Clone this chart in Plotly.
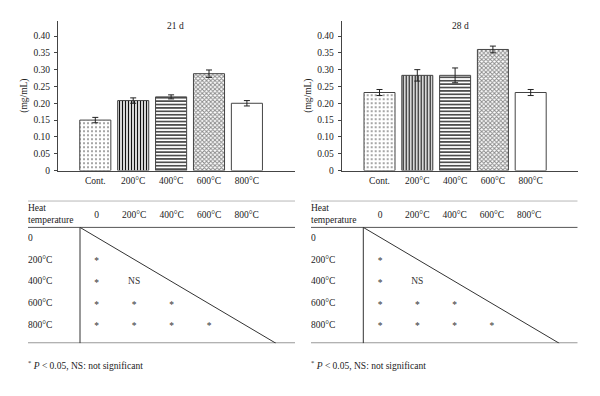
import plotly.graph_objects as go

W, H = 600, 396
FONT = "Liberation Serif"

categories = ["Cont.", "200°C", "400°C", "600°C", "800°C"]
values_21d = [0.150, 0.208, 0.219, 0.288, 0.200]
errors_21d = [0.008, 0.008, 0.006, 0.011, 0.008]
values_28d = [0.232, 0.283, 0.283, 0.360, 0.232]
errors_28d = [0.009, 0.017, 0.022, 0.010, 0.009]
panel_titles = ["21 d", "28 d"]
y_ticks = [0, 0.05, 0.10, 0.15, 0.20, 0.25, 0.30, 0.35, 0.40]
y_ticktext = ["0", "0.05", "0.10", "0.15", "0.20", "0.25", "0.30", "0.35", "0.40"]

table_cols = ["0", "200°C", "400°C", "600°C", "800°C"]
table_rows = ["0", "200°C", "400°C", "600°C", "800°C"]
# significance (row vs column), lower triangle
significance = [
    ["", "", "", "", ""],
    ["*", "", "", "", ""],
    ["*", "NS", "", "", ""],
    ["*", "*", "*", "", ""],
    ["*", "*", "*", "*", ""],
]
footnote = "<sup>*</sup> <i>P</i> < 0.05, NS: not significant"

patterns = dict(
    shape=[".", "|", "-", "x", ""],
    size=[4, 3, 3.4, 3, 4],
    solidity=[0.2, 0.45, 0.4, 0.55, 0.1],
    fgcolor=["#8a8a8a", "#111111", "#222222", "#8a8a8a", "#ffffff"],
    bgcolor="#ffffff",
    fillmode="replace",
)

fig = go.Figure()

def px_x(p):
    return p / W

def px_y(p):
    return 1 - p / H

# pixel geometry per panel: (axis_left, axis_right, first_center, spacing)
bar_geo = [(58, 295, 95.3, 37.9), (341.7, 578, 379.5, 37.8)]
tab_geo = [(28, 295, 96.7, 37.5, 80, 276), (311, 577.7, 380, 37.3, 363.3, 559.3)]
data_sets = [(values_21d, errors_21d), (values_28d, errors_28d)]
TXT = dict(family=FONT, size=9.5, color="#222222")

for i in range(2):
    xa = "x" if i == 0 else f"x{2*i+1}"
    ya = "y" if i == 0 else f"y{2*i+1}"
    xa_t = f"x{2*i+2}"
    ya_t = f"y{2*i+2}"
    vals, errs = data_sets[i]
    fig.add_trace(go.Bar(
        x=categories, y=vals, xaxis=xa, yaxis=ya,
        width=0.82,
        marker=dict(color="#ffffff", line=dict(color="#444444", width=1), pattern=patterns),
        error_y=dict(type="data", array=errs, color="#222222", thickness=1, width=3),
        showlegend=False, hoverinfo="skip",
    ))
    L, R, c0, sp = bar_geo[i]
    lo = -(c0 - L) / sp
    hi = (R - c0) / sp
    ydom = [px_y(172.7), px_y(21.5)]
    xkey = "xaxis" if i == 0 else f"xaxis{2*i+1}"
    ykey = "yaxis" if i == 0 else f"yaxis{2*i+1}"
    fig.update_layout({
        xkey: dict(domain=[px_x(L), px_x(R)], anchor=ya, range=[lo, hi],
                   type="category", categoryorder="array", categoryarray=categories,
                   showline=True, linecolor="#444444", linewidth=1, ticks="",
                   showgrid=False, zeroline=False, fixedrange=True,
                   ticklabelstandoff=1, tickfont=TXT),
        ykey: dict(domain=ydom, anchor=xa, range=[0, 0.444],
                   tickvals=y_ticks, ticktext=y_ticktext,
                   showline=True, linecolor="#444444", linewidth=1,
                   ticks="outside", ticklen=3, tickcolor="#444444",
                   showgrid=False, zeroline=False, fixedrange=True,
                   ticklabelstandoff=2, tickfont=TXT),
    })
    fig.add_annotation(x=px_x(175 if i == 0 else 460), y=px_y(26), xref="paper", yref="paper",
                       xanchor="center", yanchor="middle",
                       text=panel_titles[i], showarrow=False, font=TXT)
    fig.add_annotation(x=px_x(25 if i == 0 else 309), y=px_y(97), xref="paper", yref="paper",
                       xanchor="center", yanchor="middle",
                       text="(mg/mL)", textangle=-90, showarrow=False, font=TXT)

    # ----- table -----
    TL, TR, t0, tsp, vline_px, dend_px = tab_geo[i]
    row0, rsp = 241.7, 21.9
    tlo = -(t0 - TL) / tsp
    thi = (TR - t0) / tsp
    top_px, hdr_px, bot_px = 203.3, 230.3, 347.7

    def ry(p):
        return (p - row0) / rsp

    fig.update_layout({
        f"xaxis{2*i+2}": dict(domain=[px_x(TL), px_x(TR)], anchor=ya_t, range=[tlo, thi],
                              visible=False, fixedrange=True),
        f"yaxis{2*i+2}": dict(domain=[px_y(bot_px), px_y(top_px)], anchor=xa_t,
                              range=[ry(bot_px), ry(top_px)], visible=False, fixedrange=True),
    })
    fig.add_trace(go.Scatter(
        x=list(range(len(table_cols))), y=[ry(218.3)] * len(table_cols),
        mode="text", text=table_cols, textposition="middle center", textfont=TXT,
        xaxis=xa_t, yaxis=ya_t, showlegend=False, hoverinfo="skip"))
    fig.add_trace(go.Scatter(
        x=[tlo] * len(table_rows), y=list(range(len(table_rows))),
        mode="text", text=table_rows, textposition="middle right", textfont=TXT,
        xaxis=xa_t, yaxis=ya_t, showlegend=False, hoverinfo="skip"))
    fig.add_annotation(x=tlo, y=ry(216.7), xref=xa_t, yref=ya_t, text="Heat<br>temperature",
                       xanchor="left", yanchor="middle", xshift=-2, showarrow=False,
                       align="left", font=TXT)
    sx, sy, st = [], [], []
    for r, row in enumerate(significance):
        for c, v in enumerate(row):
            if v:
                sx.append(c); sy.append(r + (0.08 if v == "*" else 0)); st.append(v)
    fig.add_trace(go.Scatter(
        x=sx, y=sy, mode="text", text=st, textposition="middle center",
        textfont=dict(family=FONT, size=9.5, color="#333333"),
        xaxis=xa_t, yaxis=ya_t, showlegend=False, hoverinfo="skip"))
    vxu = (vline_px - t0) / tsp
    dxu = (dend_px - t0) / tsp
    line_kw = dict(xref=xa_t, yref=ya_t, type="line")
    fig.add_shape(x0=tlo, x1=thi, y0=ry(top_px), y1=ry(top_px), line=dict(color="#555555", width=1), **line_kw)
    fig.add_shape(x0=tlo, x1=thi, y0=ry(hdr_px), y1=ry(hdr_px), line=dict(color="#555555", width=1), **line_kw)
    fig.add_shape(x0=tlo, x1=thi, y0=ry(bot_px), y1=ry(bot_px), line=dict(color="#999999", width=2), **line_kw)
    fig.add_shape(x0=vxu, x1=vxu, y0=ry(hdr_px), y1=ry(bot_px), line=dict(color="#333333", width=1), **line_kw)
    fig.add_shape(x0=vxu, x1=dxu, y0=ry(hdr_px), y1=ry(bot_px), line=dict(color="#333333", width=1), **line_kw)
    fig.add_annotation(x=px_x(TL), y=px_y(370), xref="paper", yref="paper", text=footnote,
                       xanchor="left", yanchor="middle", xshift=-2, showarrow=False, font=TXT)

fig.update_layout(width=W, height=H, margin=dict(l=0, r=0, t=0, b=0),
                  paper_bgcolor="#ffffff", plot_bgcolor="#ffffff")
fig.write_html("out.html", config={"displayModeBar": False},
               post_script="document.body.style.margin='0';document.body.style.overflow='hidden';")
